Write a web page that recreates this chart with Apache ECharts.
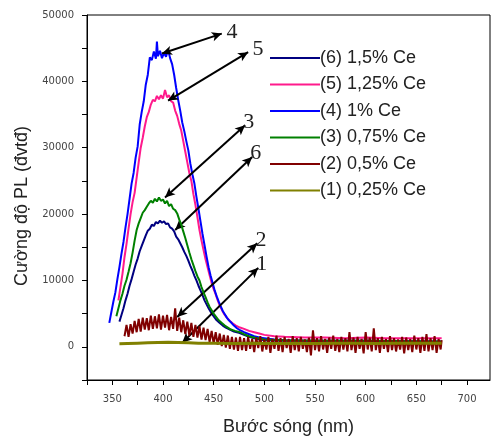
<!DOCTYPE html>
<html>
<head>
<meta charset="utf-8">
<script src="https://cdn.jsdelivr.net/npm/echarts@6/dist/echarts.min.js"></script>
<style>html,body{margin:0;padding:0;background:#fff}#c{width:492px;height:441px}</style>
</head>
<body>
<div id="c"></div>
<script>
// Series names (legend order)
const names = ['(6) 1,5% Ce','(5) 1,25% Ce','(4) 1% Ce','(3) 0,75% Ce','(2) 0,5% Ce','(1) 0,25% Ce'];

// (6) 1,5% Ce
const wl6 = [357,359,361,363,365,367,369,371,373,375,377,379,381,383,385,387,389,391,393,395,397,399,401,403,405,407,409,411,413,415,417,419,421,423,425,427,429,431,433,435,437,439,441,443,445,447,449,451,453,456,459,462,466,470,475,480,485,490,500,520,560,600,640,675];
const pl6 = [3800,4800,5800,7000,8000,9200,10200,11300,12400,13300,14400,15200,16000,16800,17500,17800,18400,18200,18800,18600,19000,18700,18900,18500,18600,18000,17800,17400,16600,16200,15600,15000,14300,13700,13000,12200,11500,10700,10000,9200,8500,7800,7000,6400,5800,5300,4800,4400,4000,3600,3200,2900,2600,2300,2100,1800,1500,1300,1000,900,800,800,750,700];

// (5) 1,25% Ce
const wl5 = [356,358,360,362,364,366,368,370,372,374,376,378,380,382,384,386,388,390,392,394,396,398,400,402,404,406,408,410,412,414,416,418,420,422,424,426,428,430,432,434,436,438,440,442,444,446,448,450,452,454,456,458,460,463,466,469,472,476,480,485,490,495,500,510,520,540,560,580,600,620,650,675];
const pl5 = [7000,9000,11000,13500,15500,17800,20000,21800,23200,25500,27800,30000,31500,33200,34600,35400,36500,37200,37000,37800,37300,37900,37400,38700,37600,37900,37000,36800,35600,34800,33600,32600,31000,29400,27800,26200,25000,23000,21400,19500,17600,16000,14600,13200,12000,10800,9600,8700,7900,7000,6200,5600,5000,4400,3900,3500,3200,2900,2700,2400,2200,2000,1800,1600,1500,1400,1400,1300,1400,1300,1300,1300];

// (4) 1% Ce
const wl4 = [347,349,351,353,355,357,359,361,363,365,367,369,371,373,375,377,379,381,383,385,387,389,391,393,394,395,397,399,401,403,405,407,409,411,413,415,417,419,421,423,425,427,429,431,433,435,437,439,441,443,445,447,449,451,453,455,457,459,461,463,465,467,470,473,476,480,485,490,495,500,510,520,540,570,600,640,675];
const pl4 = [3600,5200,6800,8200,10200,12000,14000,15800,18000,20000,22300,24600,26200,28500,30200,33500,35400,37000,39500,41000,43600,43200,44500,43400,46000,43800,44600,43500,44300,43700,44800,43500,42600,41000,39000,37200,35600,33800,32500,31000,29600,27600,26000,24600,22600,20800,18900,17000,15300,13600,12000,10700,9600,8500,7600,6800,6100,5400,4900,4400,4000,3700,3200,2800,2500,2200,1900,1600,1400,1300,1100,1000,900,900,900,850,800];

// (3) 0,75% Ce
const wl3 = [354,356,358,360,362,364,366,368,370,372,374,376,378,380,382,384,386,388,390,392,394,396,398,400,402,404,406,408,410,412,414,416,418,420,422,424,426,428,430,432,434,436,438,440,442,444,446,448,450,452,455,458,461,464,467,471,476,480,485,490,500,520,560,600,640,675];
const pl3 = [4600,5800,7000,8000,9200,10100,11300,12600,14200,16000,17600,18600,19400,20200,20600,21100,21600,22000,21700,22300,21900,22500,22000,22200,21600,22000,21200,21500,20800,20600,20100,19200,18400,17400,16400,15300,14200,13200,12300,11400,10600,10000,9000,8200,7500,6700,6000,5500,5000,4600,4000,3600,3200,2900,2600,2400,2200,1900,1600,1400,1100,1000,900,900,850,800];

// (2) 0,5% Ce
const wl2 = [362,364,366,368,370,372,374,376,378,380,382,384,386,388,390,392,394,396,398,400,402,404,406,408,410,412,414,416,418,420,422,424,426,428,430,432,434,436,438,440,442,444,446,448,450,452,454,456,458,460,462,464,466,468,470,472,474,476,478,480,482,484,486,488,490,492,494,496,498,500,502,504,506,508,510,512,514,516,518,520,522,524,526,528,530,532,534,536,538,540,542,544,546,548,550,552,554,556,558,560,562,564,566,568,570,572,574,576,578,580,582,584,586,588,590,592,594,596,598,600,602,604,606,608,610,612,614,616,618,620,622,624,626,628,630,632,634,636,638,640,642,644,646,648,650,652,654,656,658,660,662,664,666,668,670,672,674,675];
const pl2 = [1600,3300,1500,3400,2000,3900,2200,4200,2300,4400,
             2600,4300,2500,4700,2700,4600,2800,4900,2600,4700,
             2900,4800,2500,4500,2700,5800,2400,4400,2200,4000,
             1900,3800,1700,3600,1500,3300,1400,3100,1100,2900,
             1000,2700,700,2400,500,2200,300,2000,100,1800,
             -100,1700,-300,1500,-400,1400,-600,1500,-500,1300,
             -600,1500,-300,1200,-800,1400,-200,1600,-700,1100,
             -400,1500,-900,1200,-300,1700,-600,1300,-800,1500,
             -200,1200,-900,1600,-500,1300,-700,1500,-300,1100,
             -800,1400,-1300,2500,-500,1300,-700,1600,-400,1200,
             -900,1400,-300,1700,-600,1200,-800,1500,-400,1300,
             -700,2200,-500,1400,-900,1500,-300,1200,-1000,2200,
             -400,1400,-700,2800,-500,1300,-900,1500,-300,1200,
             -800,1600,-500,1300,-700,1100,-400,1500,-1000,1400,
             -500,1200,-800,1700,-400,1300,-900,1500,-600,1900,
             -700,1300,-500,1600,-900,1200,-400,1000];

// (1) 0,25% Ce
const wl1 = [357,365,375,385,395,405,415,425,435,450,470,490,510,530,550,570,590,610,630,650,675];
const pl1 = [450,500,550,600,650,700,650,600,550,550,500,550,500,550,500,550,550,500,550,550,550];

// Arrow annotations
const arrowLabels = ['4','5','3','6','2','1'];
const arrowStartWl = [399,405,402,412,414,419];
const arrowStartPL = [44200,37100,22500,17600,4500,600];
const arrowEndWl = [458,484,481,488,493,494];
const arrowEndPL = [47200,44400,33400,28600,15600,11900];

// Axis ticks
const xTicks = [325,350,375,400,425,450,475,500,525,550,575,600,625,650,675,700];
const xLabels = [350,400,450,500,550,600,650,700];
const yTicks = [-5000,0,5000,10000,15000,20000,25000,30000,35000,40000,45000,50000];
const yLabels = [0,10000,20000,30000,40000,50000];

const colors = ['#000080','#ff1a8c','#0000ff','#008000','#800000','#808000'];
const wls = [wl6,wl5,wl4,wl3,wl2,wl1];
const pls = [pl6,pl5,pl4,pl3,pl2,pl1];

const series = names.map((n,i)=>({
  name:n, type:'line', showSymbol:false, symbol:'none',
  data: wls[i].map((w,j)=>[w,pls[i][j]]),
  lineStyle:{color:colors[i], width: i===5?3:2},
  itemStyle:{color:colors[i]},
  z: 2+i
}));

series.push({
  type:'line', data:[], silent:true, z:20,
  markLine:{
    silent:true, animation:false,
    symbol:['arrow','arrow'], symbolSize:[7,10],
    lineStyle:{color:'#000', width:2, type:'solid'},
    label:{show:true, position:'end', color:'#222', fontFamily:'Liberation Serif', fontSize:22, distance:5},
    data: arrowLabels.map((l,i)=>[
      {coord:[arrowStartWl[i],arrowStartPL[i]], name:l, label:{formatter:l}},
      {coord:[arrowEndWl[i],arrowEndPL[i]]}
    ])
  }
});

const chart = echarts.init(document.getElementById('c'), null, {renderer:'canvas'});
chart.setOption({
  animation:false,
  backgroundColor:'#fff',
  grid:{left:87, top:15, right:2, bottom:61, show:true, borderColor:'#000', borderWidth:1, containLabel:false},
  legend:{
    orient:'vertical', left:265, top:44, itemGap:8.5,
    icon:'rect', itemWidth:50, itemHeight:2,
    data:names,
    textStyle:{fontFamily:'Liberation Sans', fontSize:18, color:'#222', padding:[0,0,0,-5]}
  },
  xAxis:{
    type:'value', min:325, max:722.7,
    name:'Bước sóng (nm)', nameLocation:'middle', nameGap:38,
    nameTextStyle:{fontFamily:'Liberation Sans', fontSize:18, color:'#222'},
    axisLine:{show:true, onZero:false, lineStyle:{color:'#000', width:1}},
    axisTick:{show:true, customValues:xTicks, length:5, inside:false, lineStyle:{color:'#000'}},
    axisLabel:{customValues:xLabels, fontFamily:'DejaVu Sans', fontSize:10, color:'#444', margin:14, formatter:v=>String(v)},
    splitLine:{show:false}
  },
  yAxis:{
    type:'value', min:-5000, max:50000,
    name:'Cường độ PL (đvtđ)', nameLocation:'middle', nameGap:55, nameRotate:90,
    nameTextStyle:{fontFamily:'Liberation Sans', fontSize:18, color:'#222', padding:[0,17,0,0]},
    axisLine:{show:true, onZero:false, lineStyle:{color:'#000', width:1}},
    axisTick:{show:true, customValues:yTicks, length:5, lineStyle:{color:'#000'}},
    axisLabel:{customValues:yLabels, fontFamily:'DejaVu Sans', fontSize:10, color:'#444', margin:13, formatter:v=>String(v)},
    splitLine:{show:false}
  },
  series: series
});
</script>
</body>
</html>
